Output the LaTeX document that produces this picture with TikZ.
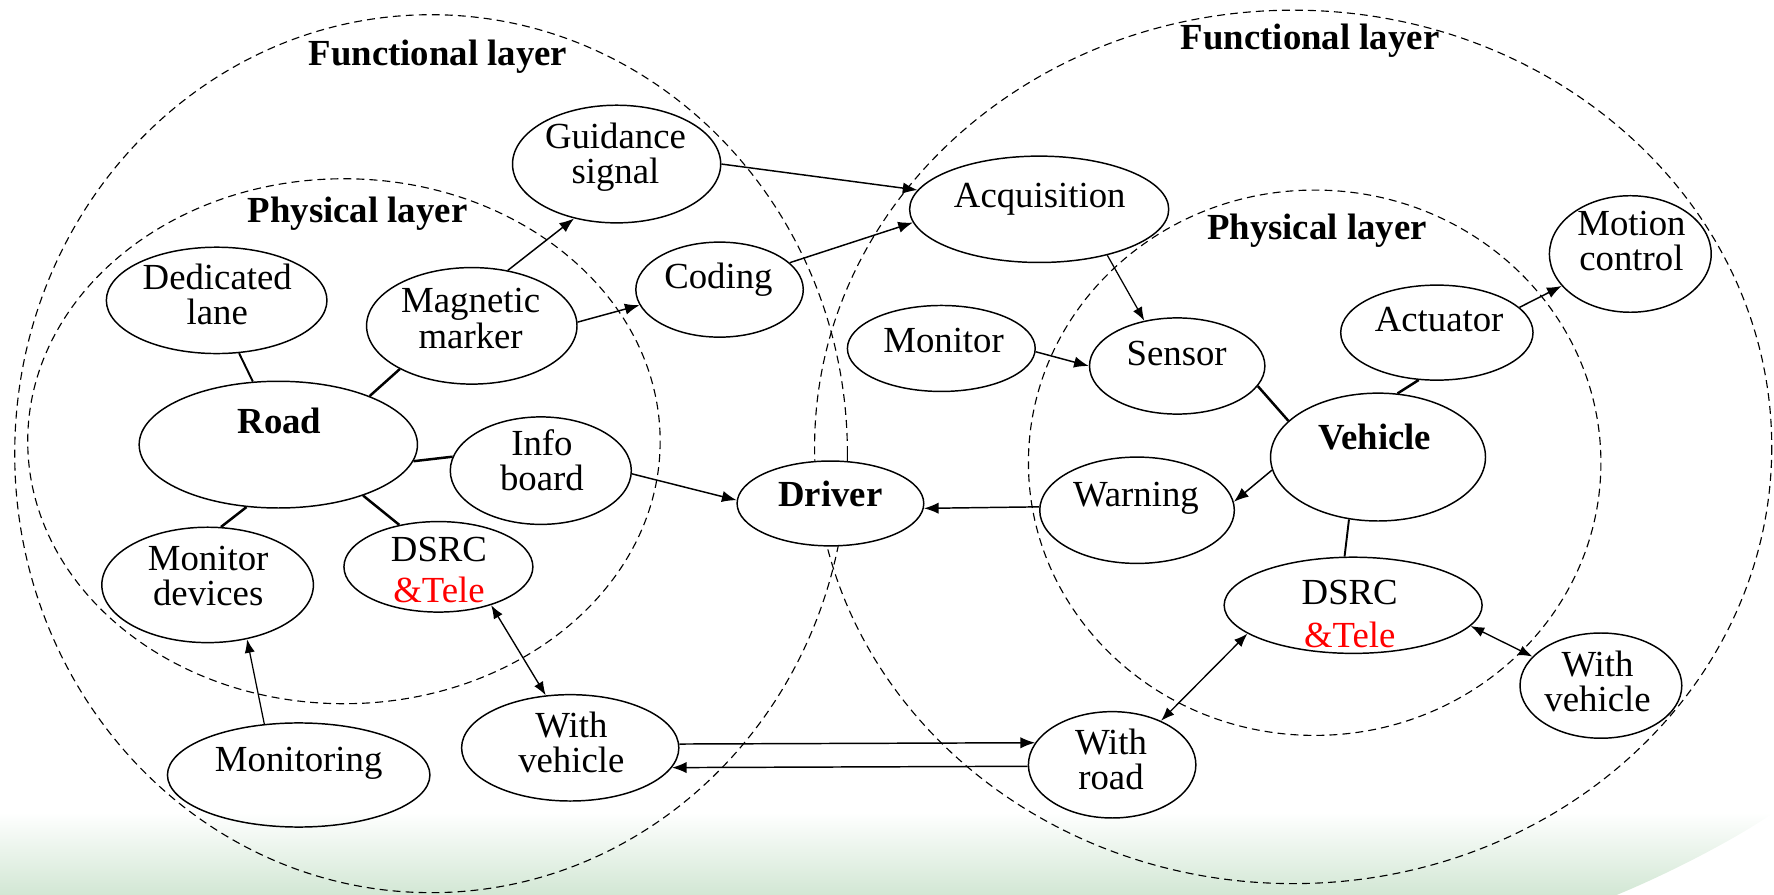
\documentclass[tikz,border=0pt]{standalone}
\usepackage{fontspec}
\setmainfont{Liberation Serif}
\usetikzlibrary{arrows.meta,shapes.geometric}
\definecolor{bggreen}{RGB}{210,231,212}
\begin{document}
\begin{tikzpicture}[x=1pt,y=-1pt,
  every node/.style={inner sep=0pt},
  ell/.style 2 args={draw, ellipse, line width=1.3pt,
    minimum width=#1pt, minimum height=#2pt},
  layer/.style={draw, dashed, dash pattern=on 7pt off 4.5pt, line width=1pt},
  txt/.style={font=\fontsize{32.5}{31}\selectfont, align=center},
  ttl/.style={font=\fontsize{32.5}{31}\selectfont\bfseries, anchor=base},
  word/.style={txt, anchor=base},
  arr/.style={line width=1.3pt, -{Latex[length=13pt,width=10pt]}},
  arrthin/.style={line width=1.1pt, -{Latex[length=12pt,width=9pt]}},
  darr/.style={line width=1.2pt, {Latex[length=12pt,width=9pt]}-{Latex[length=12pt,width=9pt]}},
  link/.style={line width=2.2pt},
  linkthin/.style={line width=1.7pt}
]
\useasboundingbox (0,0) rectangle (1568,791);

% soft green band along the bottom edge
\shade[top color=white, bottom color=bggreen]
  (0,718) -- (1568,718)
  .. controls (1540,738) and (1480,770) .. (1429,791)
  -- (0,791) -- cycle;

% layer boundaries
\draw[layer] (381,401) ellipse [x radius=368, y radius=388];
\draw[layer] (304,390) ellipse [x radius=279.5, y radius=232];
\draw[layer] (1143,395) ellipse [x radius=423, y radius=386];
\draw[layer] (1162,409) ellipse [x radius=253, y radius=241];

\node[ttl] (fl-l) at (387,58) {Functional layer};
\node[ttl] (pl-l) at (316,197) {Physical layer};
\node[ttl] (fl-r) at (1158,44) {Functional layer};
\node[ttl] (pl-r) at (1164,212) {Physical layer};

% road side
\node[ell={184}{104}] (gs) at (545,145) {};
\node[ell={148}{84}] (coding) at (636,256) {};
\node[ell={195}{94}] (dl) at (191.5,265.5) {};
\node[ell={186}{103}] (mm) at (417,288) {};
\node[ell={246}{112}] (road) at (246,393) {};
\node[ell={160}{95}] (info) at (478,416) {};
\node[ell={187}{102}] (md) at (183.5,517) {};
\node[ell={167}{80}] (dsrcl) at (387.5,501) {};
\node[ell={232}{92}] (monitoring) at (264,685) {};
\node[ell={192}{94}] (wvl) at (504,661) {};

% driver in the middle, covering the layer lines
\node[ell={165}{75}, fill=white] (driver) at (734,445) {};

% vehicle side
\node[ell={229}{94}] (acq) at (918.5,185) {};
\node[ell={166}{76}] (monitor) at (832,308) {};
\node[ell={155}{85}] (sensor) at (1040.5,323.5) {};
\node[ell={170}{84}] (actuator) at (1270,294) {};
\node[ell={143}{103}] (mc) at (1441,224.5) {};
\node[ell={190}{113}] (vehicle) at (1218,404) {};
\node[ell={172}{94}] (warning) at (1005,451) {};
\node[ell={228}{85}] (dsrcr) at (1196,535) {};
\node[ell={143}{93}] (wvr) at (1415,606) {};
\node[ell={148}{94}] (wr) at (983,676) {};

% labels
\node[txt] (gs-t) at (544,139) {Guidance\\signal};
\node[word] (coding-t) at (635,255) {Coding};
\node[txt] (dl-t) at (192,260.5) {Dedicated\\lane};
\node[txt] (mm-t) at (416,281.5) {Magnetic\\marker};
\node[ttl] (road-t) at (247,383) {Road};
\node[txt] (info-t) at (479,406.5) {Info\\board};
\node[txt] (md-t) at (184,509) {Monitor\\devices};
\node[txt] (dsrcl-t) at (388,504) {DSRC\\[5pt]\textcolor{red}{\&Tele}};
\node[word] (monitoring-t) at (264,682) {Monitoring};
\node[txt] (wvl-t) at (505,656.5) {With\\vehicle};
\node[ttl] (driver-t) at (734,448) {Driver};
\node[word] (acq-t) at (919,183) {Acquisition};
\node[word] (monitor-t) at (834,312) {Monitor};
\node[word] (sensor-t) at (1040,323) {Sensor};
\node[word] (actuator-t) at (1272,293) {Actuator};
\node[txt] (mc-t) at (1442,213) {Motion\\control};
\node[ttl] (vehicle-t) at (1215,397) {Vehicle};
\node[word] (warning-t) at (1004,448) {Warning};
\node[txt] (dsrcr-t) at (1193,543) {DSRC\\[7pt]\textcolor{red}{\&Tele}};
\node[txt] (wvr-t) at (1412,602) {With\\vehicle};
\node[txt] (wr-t) at (982,671.5) {With\\road};

% road-side connectors
\draw[linkthin] (dl.293) -- (road.112);
\draw[link] (mm.211.5) -- (road.28);
\draw[link] (road.353) -- (info.171.5);
\draw[link] (road.243) -- (md.77);
\draw[link] (road.329) -- (dsrcl.133);
\draw[arr] (mm.57) -- (gs.232);
\draw[arr] (mm.2) -- (coding.191);
\draw[arr] (gs.0) -- (acq.171);
\draw[arr] (coding.21) -- (acq.186.5);
\draw[arr] (info.358.6) -- (driver.178.7);
\draw[arrthin] (monitoring.124.8) -- (md.306.7);
\draw[darr] (dsrcl.324.4) -- (wvl.115.6);

% vehicle-side connectors
\draw[arrthin] (acq.326.5) -- (sensor.126);
\draw[arr] (monitor.358) -- (sensor.180);
\draw[arr] (actuator.17.5) -- (mc.205);
\draw[link] (sensor.346) -- (vehicle.158.5);
\draw[link] (actuator.249.4) -- (vehicle.73.9);
\draw[arr] (vehicle.187.4) -- (warning.5.5);
\draw[linkthin] (vehicle.245.6) -- (dsrcr.100.5);
\draw[arr] (warning.178.7) -- (driver.357.3);
\draw[darr] (dsrcr.195.7) -- (wr.42);
\draw[darr] (dsrcr.350) -- (wvr.157.6);

% vehicle-to-road exchange
\draw[arr] (wvl.2) -- (wr.164.9);
\draw[arr] (wr.181.5) -- (wvl.349.2);
\end{tikzpicture}
\end{document}
